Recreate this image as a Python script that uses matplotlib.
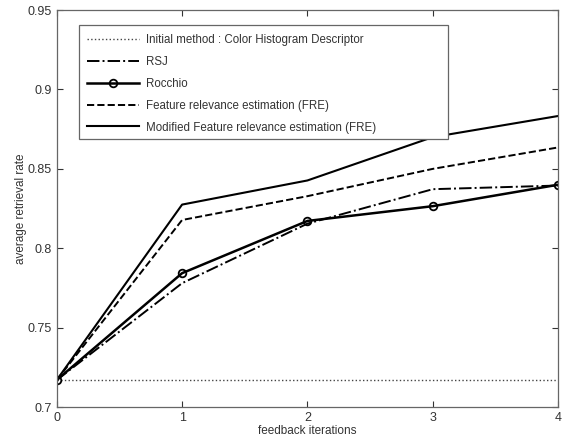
import matplotlib
matplotlib.use("Agg")
import matplotlib.pyplot as plt
from matplotlib.patches import Rectangle

plt.rcParams['font.family'] = ['Liberation Sans', 'DejaVu Sans']

iterations = [0, 1, 2, 3, 4]
initial = [0.717, 0.717, 0.717, 0.717, 0.717]
rsj = [0.717, 0.778, 0.8155, 0.8372, 0.8395]
rocchio = [0.717, 0.7843, 0.8172, 0.8265, 0.8400]
fre = [0.717, 0.8178, 0.8328, 0.8500, 0.8635]
mod_fre = [0.717, 0.8275, 0.8427, 0.8700, 0.8833]

fig = plt.figure(figsize=(5.62, 4.40), dpi=100)
ax = fig.add_axes([0.101, 0.075, 0.892, 0.902])

ax.plot(iterations, initial, color='#444444', linestyle=':', linewidth=1.0,
        label='Initial method : Color Histogram Descriptor')
ax.plot(iterations, rsj, color='black', linestyle='-.', linewidth=1.4, label='RSJ')
ax.plot(iterations, rocchio, color='black', linestyle='-', linewidth=1.8, marker='o',
        markersize=5.5, markerfacecolor='none', markeredgewidth=1.3, label='Rocchio')
ax.plot(iterations, fre, color='black', linestyle='--', linewidth=1.4,
        label='Feature relevance estimation (FRE)')
ax.plot(iterations, mod_fre, color='black', linestyle='-', linewidth=1.5,
        label='Modified Feature relevance estimation (FRE)')

ax.set_xlim(0, 4)
ax.set_ylim(0.7, 0.95)
ax.set_xticks([0, 1, 2, 3, 4])
ax.set_yticks([0.7, 0.75, 0.8, 0.85, 0.9, 0.95])
ax.set_yticklabels(['0.7', '0.75', '0.8', '0.85', '0.9', '0.95'])
ax.tick_params(direction='in', top=True, right=True, labelsize=9, colors='#333333',
               length=4, width=0.8)
for sp in ax.spines.values():
    sp.set_color('#666666')
    sp.set_linewidth(0.9)

ax.set_xlabel('feedback iterations', fontsize=8.5, color='#333333', labelpad=1)
ax.set_ylabel('average retrieval rate', fontsize=8.5, color='#333333', labelpad=0.5)

# MATLAB-style legend box, wider than its contents
box = Rectangle((0.044, 0.675), 0.736, 0.287, transform=ax.transAxes,
                facecolor='white', edgecolor='#666666', linewidth=0.9, zorder=4)
ax.add_patch(box)

leg = ax.legend(loc='upper left', bbox_to_anchor=(0.044, 0.962), fontsize=8.3,
                handlelength=4.5, handletextpad=0.55, borderpad=0.75, labelspacing=0.86,
                frameon=False, borderaxespad=0)
leg.set_zorder(5)
for t in leg.get_texts():
    t.set_color('#333333')

fig.savefig('out.png', dpi=100)
